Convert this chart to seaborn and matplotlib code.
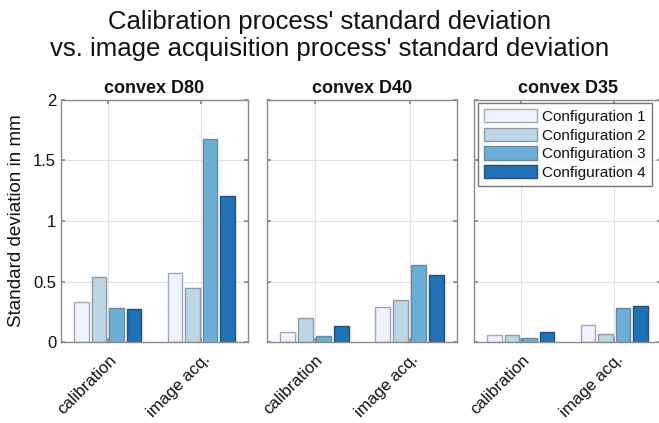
import matplotlib
matplotlib.use("Agg")
import matplotlib.pyplot as plt
import matplotlib.transforms as mtransforms
import seaborn as sns
import pandas as pd
from matplotlib.patches import Patch

# ---- data ----
panels = ["convex D80", "convex D40", "convex D35"]
processes = ["calibration", "image acq."]
configs = ["Configuration 1", "Configuration 2", "Configuration 3", "Configuration 4"]
d80_calibration = [0.33, 0.54, 0.28, 0.27]
d80_image = [0.57, 0.45, 1.68, 1.21]
d40_calibration = [0.08, 0.20, 0.05, 0.13]
d40_image = [0.29, 0.35, 0.64, 0.55]
d35_calibration = [0.06, 0.06, 0.03, 0.08]
d35_image = [0.14, 0.07, 0.28, 0.30]
colors = ["#eff3ff", "#bdd7e7", "#6baed6", "#2171b5"]
y_ticks = [0, 0.5, 1, 1.5, 2]
y_ticklabels = ["0", "0.5", "1", "1.5", "2"]

values = {
    "convex D80": (d80_calibration, d80_image),
    "convex D40": (d40_calibration, d40_image),
    "convex D35": (d35_calibration, d35_image),
}
rows = []
for p in panels:
    cal, img = values[p]
    for proc, vals in zip(processes, (cal, img)):
        for c, v in zip(configs, vals):
            rows.append({"panel": p, "process": proc, "config": c, "value": v})
df = pd.DataFrame(rows)

sns.set_theme(style="white")
plt.rcParams["font.family"] = ["Liberation Sans", "DejaVu Sans"]
plt.rcParams["text.color"] = "#111111"
plt.rcParams["axes.labelcolor"] = "#111111"
plt.rcParams["xtick.labelcolor"] = "#111111"
plt.rcParams["ytick.labelcolor"] = "#111111"

fig = plt.figure(figsize=(6.59, 4.23), dpi=100)
W, H = 659, 423
boxes = [(61, 248), (267, 457), (474, 661)]
top_px, bot_px = 100, 342
axes = []
for (l, r) in boxes:
    ax = fig.add_axes([l / W, (H - bot_px) / H, (r - l) / W, (bot_px - top_px) / H])
    axes.append(ax)

edge = ["#a4a8b4", "#8c9aa6", "#6a8aa0", "#24507a"]
offset = mtransforms.ScaledTranslation(6 / 100, 0, fig.dpi_scale_trans)
for i, (ax, p) in enumerate(zip(axes, panels)):
    sub = df[df["panel"] == p]
    sns.barplot(data=sub, x="process", y="value", hue="config", order=processes,
                hue_order=configs, palette=colors, width=0.75, gap=0.16,
                saturation=1, ax=ax, legend=False, edgecolor="#8c8c8c", linewidth=1)
    for bar_container, ec in zip(ax.containers, edge):
        for b in bar_container:
            b.set_edgecolor(ec)
    ax.set_xlim(-0.5, 1.5)
    ax.set_ylim(0, 2)
    ax.set_yticks(y_ticks)
    ax.set_title(p, fontsize=13, fontweight="bold", pad=5, color="#111111")
    ax.set_xlabel("")
    ax.grid(True, color="#e3e3e3", linewidth=0.8)
    ax.set_axisbelow(True)
    for s in ax.spines.values():
        s.set_visible(True)
        s.set_color("#8a8a8a")
        s.set_linewidth(1)
    ax.tick_params(axis="both", direction="in", length=3, color="#8a8a8a",
                   left=True, right=True, top=True, bottom=True, labelsize=12)
    ax.tick_params(axis="x", pad=11)
    ax.set_xticks([0, 1])
    ax.set_xticklabels(processes, rotation=45, ha="right", va="center",
                       rotation_mode="anchor", fontsize=12)
    for lab in ax.get_xticklabels():
        lab.set_transform(lab.get_transform() + offset)
    if i == 0:
        ax.set_yticklabels(y_ticklabels, fontsize=12)
        ax.set_ylabel("Standard deviation in mm", fontsize=13.5, labelpad=6)
    else:
        ax.set_yticklabels([])
        ax.set_ylabel("")

handles = [Patch(facecolor=c, edgecolor=e, linewidth=1) for c, e in zip(colors, edge)]
leg = axes[2].legend(handles, configs, loc="upper left", bbox_to_anchor=(0.021, 0.988),
                     borderaxespad=0, fontsize=11, frameon=True, fancybox=False,
                     handlelength=3.45, handleheight=0.95, handletextpad=0.33,
                     borderpad=0.4, labelspacing=0.25, edgecolor="#555555")
leg.get_frame().set_linewidth(1)

fig.text(0.5, 1 - 29 / H, "Calibration process' standard deviation", ha="center",
         va="baseline", fontsize=18.5, color="#111111")
fig.text(0.5, 1 - 56 / H, "vs. image acquisition process' standard deviation",
         ha="center", va="baseline", fontsize=18.5, color="#111111")

fig.savefig("out.png", dpi=100)
